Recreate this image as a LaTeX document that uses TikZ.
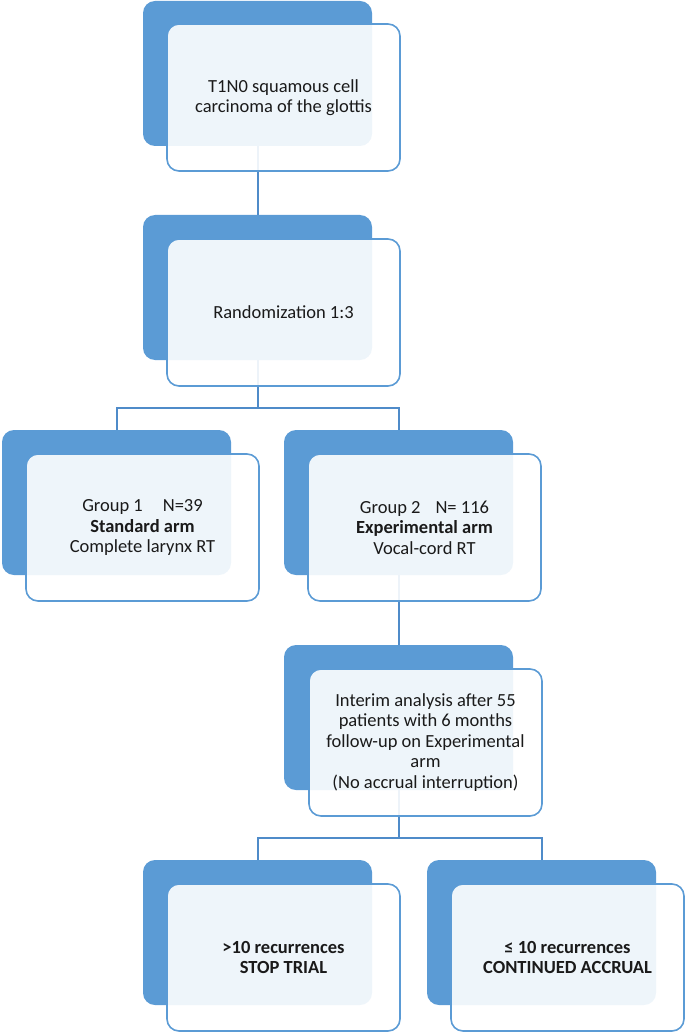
\documentclass[tikz,border=0pt]{standalone}
\usepackage{fontspec}
\setmainfont{Carlito}
\usetikzlibrary{positioning}
\definecolor{accent}{HTML}{5B9BD5}
\definecolor{linecol}{HTML}{4F8BC9}
\definecolor{txt}{HTML}{1A1A1A}
\pgfdeclarelayer{background}
\pgfsetlayers{background,main}
\tikzset{
  backbox/.style={fill=accent, draw=none, rounded corners=12pt, minimum width=229pt, minimum height=145pt, inner sep=0pt, outer sep=0pt},
  frontbox/.style={fill=white, fill opacity=0.9, text opacity=1, draw=accent, draw opacity=1, line width=1.6pt, rounded corners=12pt, minimum width=233pt, minimum height=147pt, inner sep=2pt, outer sep=0pt, align=center, text=txt, font=\fontsize{18.5}{20.5}\selectfont},
  conn/.style={draw=linecol, line width=2pt}
}
\begin{document}
\begin{tikzpicture}[x=1pt,y=-1pt]
\useasboundingbox (0,0) rectangle (685,1032);
% back boxes
\node[backbox] (b1) at (257.5,73.5) {};
\node[backbox] (b2) at (257.5,287.5) {};
\node[backbox] (b3) at (116.5,502.5) {};
\node[backbox] (b4) at (398.5,502.5) {};
\node[backbox] (b5) at (398.5,717.5) {};
\node[backbox] (b6) at (257.5,932.5) {};
\node[backbox] (b7) at (541.5,932.5) {};
% front boxes
\node[frontbox] (f1) at (283.5,97.5) {T1N0 squamous cell\\carcinoma of the glottis};
\node[frontbox] (f2) at (283.5,312.5) {Randomization 1:3};
\node[frontbox] (f3) at (142.5,527.5) {Group 1\hspace{20pt}N=39\\\textbf{Standard arm}\\Complete larynx RT};
\node[frontbox] (f4) at (424.5,527.5) {Group 2\hspace{15pt}N= 116\\\textbf{Experimental arm}\\Vocal-cord RT};
\node[frontbox] (f5) at (425.5,742.5) {Interim analysis after 55\\patients with 6 months\\follow-up on Experimental\\arm\\(No accrual interruption)};
\node[frontbox] (f6) at (283.5,957.5) {\textbf{>10 recurrences}\\\textbf{STOP TRIAL}};
\node[frontbox] (f7) at (567.5,957.5) {\textbf{≤ 10 recurrences}\\\textbf{CONTINUED ACCRUAL}};
% junctions
\coordinate (j1) at (257.5,407.7);
\coordinate (j2) at (398.5,837.7);
\begin{pgfonlayer}{background}
\draw[conn] (b1.center) -- (b2.center);
\draw[conn] (b2.center) -- (j1);
\draw[conn] (j1) -| (b3.center);
\draw[conn] (j1) -| (b4.center);
\draw[conn] (b4.center) -- (b5.center);
\draw[conn] (b5.center) -- (j2);
\draw[conn] (j2) -| (b6.center);
\draw[conn] (j2) -| (b7.center);
\end{pgfonlayer}
\end{tikzpicture}
\end{document}
